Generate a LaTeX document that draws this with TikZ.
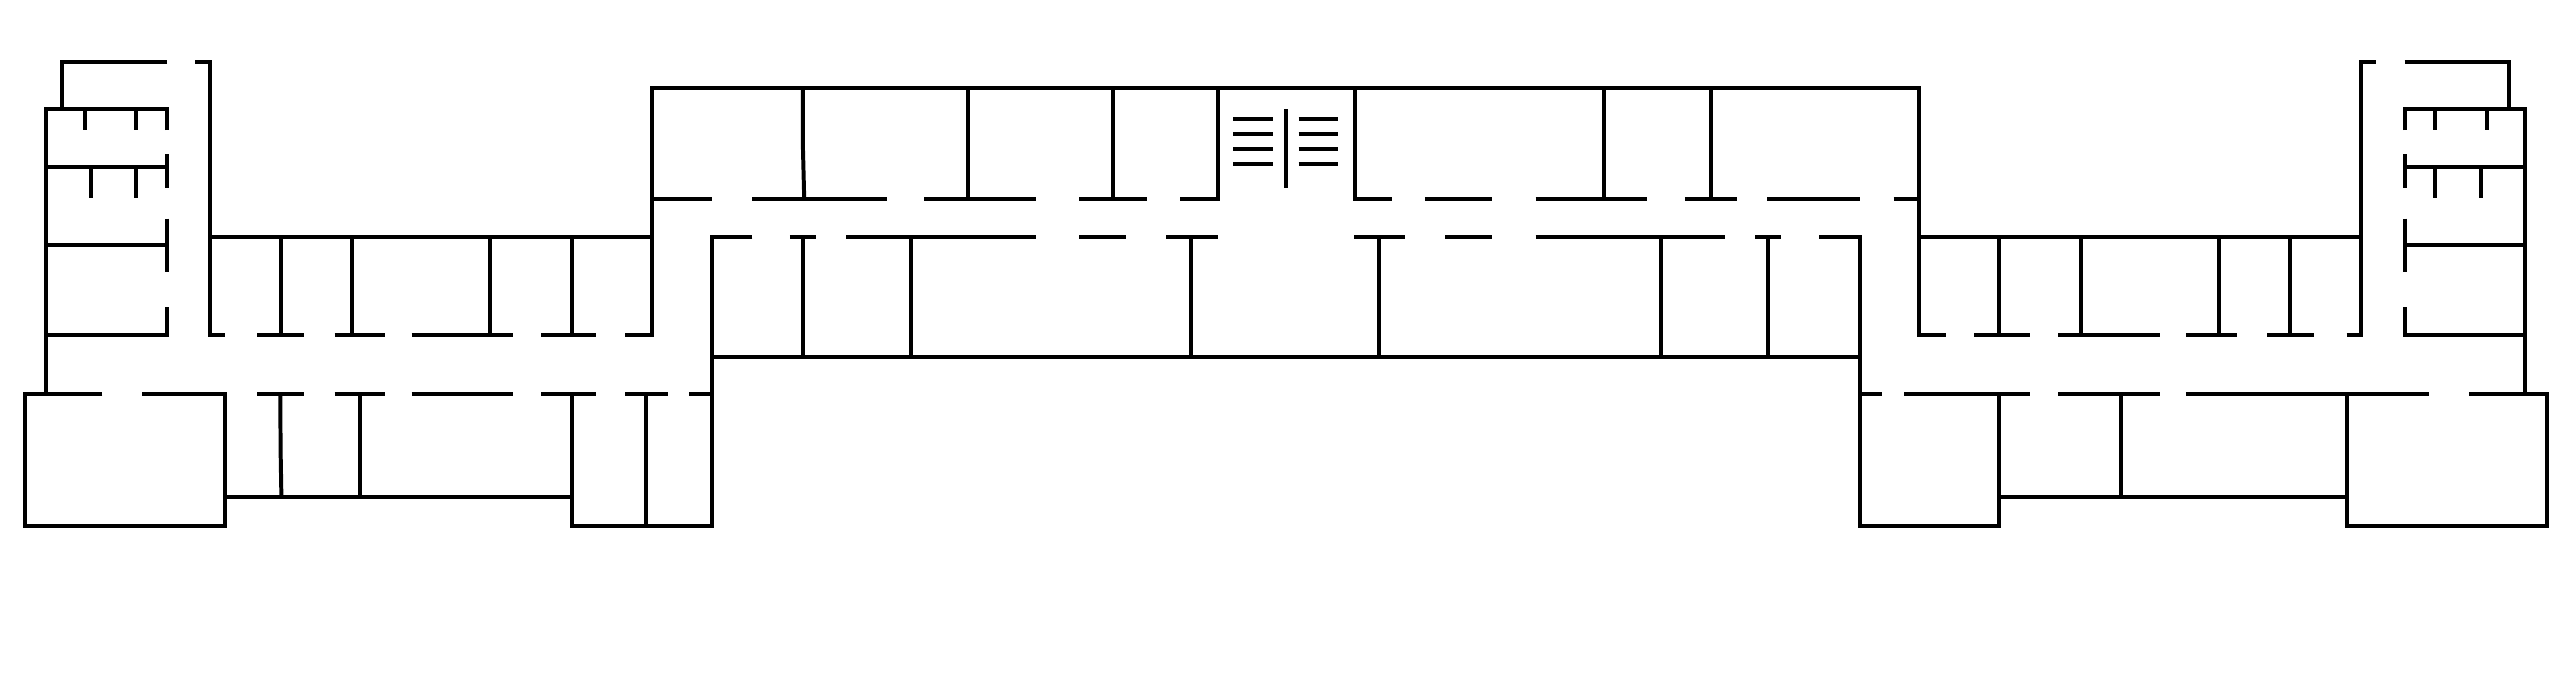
\documentclass[tikz,border=0pt]{standalone}

\begin{document}
\begin{tikzpicture}[x=0.01cm,y=-0.01cm,wall/.style={line width=1.13pt,black}]
	\useasboundingbox (0,0) rectangle (2567,678);

	% left wing
	\draw[wall] (167,62) -- (62.3,62) -- (62.3,109);
	\draw[wall] (195,62) -- (210.4,62) -- (210.4,335.3) -- (225,335.3);
	\draw[wall] (167,130) -- (167,109) -- (46.3,109) -- (46.3,394.4);
	\draw[wall] (46.3,166.6) -- (167,166.6);
	\draw[wall] (167,154) -- (167,188);
	\draw[wall] (46.3,245.3) -- (167,245.3);
	\draw[wall] (167,218.6) -- (167,272.4);
	\draw[wall] (46.3,335.3) -- (167,335.3) -- (167,306.5);
	\foreach \tickx in {84.6,135.9}
		\draw[wall] (\tickx,109) -- (\tickx,130);
	\foreach \tickx in {90.9,135.9}
		\draw[wall] (\tickx,166.6) -- (\tickx,198.4);

	% left rooms
	\draw[wall] (210.4,236.9) -- (651.8,236.9);
	\draw[wall] (625,335.3) -- (651.8,335.3) -- (651.8,88) -- (1919.3,88) -- (1919.3,335.3) -- (1945.9,335.3);
	\foreach \wallx in {281.2,351.9,489.9,572.4}
		\draw[wall] (\wallx,236.9) -- (\wallx,335.3);
	\foreach \a/\b in {257.2/304.3,334.6/385.1,411.6/512.6,541.3/596.4}
		\draw[wall] (\a,335.3) -- (\b,335.3);
	\foreach \a/\b in {257.2/304.3,334.6/385.1,411.6/512.6,541.3/596.4,625/668,689/711.6}
		\draw[wall] (\a,394.4) -- (\b,394.4);

	% left block
	\draw[wall] (102.3,394.4) -- (25.3,394.4) -- (25.3,525.6) -- (225.2,525.6) -- (225.2,394.4) -- (142.3,394.4);
	\draw[wall] (225.2,497.2) -- (572.4,497.2);
	\draw[wall] (280.3,394.4) -- (280.6,450) -- (281.4,497.2);
	\draw[wall] (359.9,394.4) -- (359.9,497.2);
	\draw[wall] (645.6,394.4) -- (645.6,525.6);

	% top rooms
	\foreach \a/\b in {651.8/711.6,752.4/886.6,924/1035.6,1079.4/1146.8,1424.8/1492.1,1535.5/1647.4,1684.9/1736.7,1767.4/1860,1893.6/1919.3}
		\draw[wall] (\a,198.7) -- (\b,198.7);
	\draw[wall] (802.9,88) -- (802.9,146.7) -- (804.2,198.7);
	\foreach \wallx in {967.5,1113,1603.7,1710.6}
		\draw[wall] (\wallx,88) -- (\wallx,198.7);
	\draw[wall] (1180,198.7) -- (1217.5,198.7) -- (1217.5,88);
	\draw[wall] (1354.5,88) -- (1354.5,198.7) -- (1391.5,198.7);

	% stairs
	\foreach \stepy in {119,134.3,149,164.3}
	{
		\draw[wall] (1233.4,\stepy) -- (1273,\stepy);
		\draw[wall] (1298.5,\stepy) -- (1338,\stepy);
	}
	\draw[wall] (1285.6,109.3) -- (1285.6,188.3);

	% middle rooms
	\draw[wall] (752.4,237.3) -- (711.6,237.3) -- (711.6,525.6) -- (572.4,525.6) -- (572.4,394.4);
	\draw[wall] (711.6,356.7) -- (1860,356.7);
	\draw[wall] (1819.2,237.3) -- (1860,237.3) -- (1860,525.6) -- (1998.7,525.6) -- (1998.7,394.4);
	\foreach \a/\b in {789.8/816,846.2/1035.6,1079.4/1126,1166/1217.5,1354/1405.4,1445.4/1492.1,1535.5/1724.9,1755.2/1781.3}
		\draw[wall] (\a,237.3) -- (\b,237.3);
	\foreach \wallx in {802.9,911,1191.4,1379.3,1660.5,1768.2}
		\draw[wall] (\wallx,237.3) -- (\wallx,356.7);

	% right rooms
	\draw[wall] (1919.3,236.9) -- (2361,236.9);
	\draw[wall] (2346.6,335.3) -- (2361,335.3) -- (2361,62) -- (2376.4,62);
	\foreach \wallx in {1998.7,2081.2,2219.4,2290}
		\draw[wall] (\wallx,236.9) -- (\wallx,335.3);
	\foreach \a/\b in {1974.4/2030.2,2058.2/2159.5,2185.8/2237.3,2267/2314.3}
		\draw[wall] (\a,335.3) -- (\b,335.3);
	\foreach \a/\b in {1860/1882,1904/2030.2,2058.2/2159.5,2185.8/2428.7}
		\draw[wall] (\a,394.4) -- (\b,394.4);

	% right block
	\draw[wall] (2469,394.4) -- (2546.6,394.4) -- (2546.6,525.6) -- (2346.6,525.6) -- (2346.6,394.4);
	\draw[wall] (1998.7,497.2) -- (2346.6,497.2);
	\draw[wall] (2120.8,394.4) -- (2120.8,497.2);

	% right wing
	\draw[wall] (2404.5,62) -- (2508.7,62) -- (2508.7,109);
	\draw[wall] (2404.5,130) -- (2404.5,109) -- (2525.3,109) -- (2525.3,394.4);
	\draw[wall] (2404.5,166.6) -- (2525.3,166.6);
	\draw[wall] (2404.5,154) -- (2404.5,188);
	\draw[wall] (2404.5,245.3) -- (2525.3,245.3);
	\draw[wall] (2404.5,218.6) -- (2404.5,272.4);
	\draw[wall] (2525.3,335.3) -- (2404.5,335.3) -- (2404.5,306.5);
	\foreach \tickx in {2435,2487}
		\draw[wall] (\tickx,109) -- (\tickx,130);
	\foreach \tickx in {2435,2480.6}
		\draw[wall] (\tickx,166.6) -- (\tickx,198.4);
\end{tikzpicture}
\end{document}
